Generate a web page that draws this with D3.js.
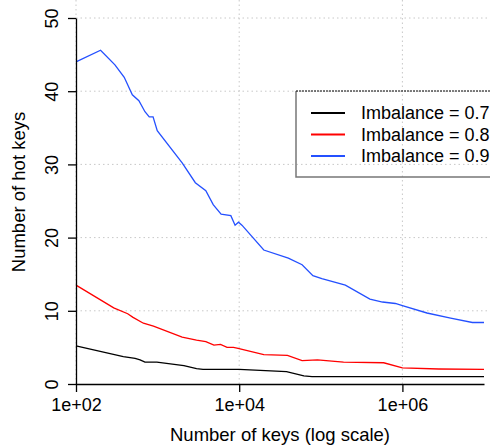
<!DOCTYPE html>
<html>
<head>
<meta charset="utf-8">
<script src="https://cdn.jsdelivr.net/npm/d3@7"></script>
<style>
  body { margin: 0; background: #fff; }
  svg { display: block; font-family: "Liberation Sans", Arial, Helvetica, sans-serif; }
</style>
</head>
<body>
<div id="chart"></div>
<script>
// values
const blueKeys = [100, 200, 300, 390, 490, 590, 700, 790, 880, 990, 2000, 2900, 3900, 4800, 6000, 7900, 8900, 9800, 10800,
  20000, 40000, 59000, 80000, 103000, 200000, 400000, 570000, 820000, 1000000, 2000000, 3900000, 7200000, 10000000];
const blueVals = [44.0, 45.6, 43.6, 41.9, 39.5, 38.7, 37.2, 36.5, 36.5, 34.6, 30.2, 27.5, 26.4, 24.5, 23.2, 23.0, 21.7, 22.1, 21.7,
  18.3, 17.2, 16.3, 14.8, 14.4, 13.5, 11.6, 11.2, 11.0, 10.7, 9.7, 9.0, 8.4, 8.4];

const redKeys = [100, 290, 430, 500, 670, 890, 2000, 3000, 3900, 4900, 5900, 7100, 8500, 9400,
  20000, 39000, 59000, 91000, 190000, 590000, 1000000, 2800000, 10000000];
const redVals = [13.5, 10.4, 9.6, 9.1, 8.3, 7.9, 6.4, 6.0, 5.8, 5.3, 5.4, 5.0, 5.0, 4.9,
  4.0, 3.9, 3.2, 3.3, 3.0, 2.9, 2.2, 2.05, 2.0];

const blackKeys = [100, 380, 530, 610, 700, 980, 2100, 3000, 3600, 10000, 38000, 62000, 78000, 10000000];
const blackVals = [5.2, 3.75, 3.5, 3.3, 3.0, 3.0, 2.5, 2.1, 2.0, 2.0, 1.7, 1.1, 1.0, 1.0];

const xTicks = [1e2, 1e4, 1e6];
const xTickLabels = ['1e+02', '1e+04', '1e+06'];
const yTicks = [0, 10, 20, 30, 40, 50];
const legendLabels = ['Imbalance = 0.7', 'Imbalance = 0.8', 'Imbalance = 0.9'];
const colors = ['#000000', '#ff0000', '#2450ff'];

const width = 490, height = 446;
const plot = { left: 76, right: 484, top: 18, bottom: 384 };

const svg = d3.select('#chart').append('svg')
  .attr('width', width)
  .attr('height', height);

const x = d3.scaleLog().domain([1e2, 1e7]).range([plot.left, plot.right]);
const y = d3.scaleLinear().domain([0, 50]).range([plot.bottom, plot.top]);

// dotted grid, runs past the axes like the original
const grid = svg.append('g').attr('class', 'grid');
grid.selectAll('line.h')
  .data(yTicks.slice(1))
  .join('line')
  .attr('class', 'h')
  .attr('x1', plot.left).attr('x2', width)
  .attr('y1', d => y(d)).attr('y2', d => y(d));
grid.selectAll('line.v')
  .data(xTicks)
  .join('line')
  .attr('class', 'v')
  .attr('x1', d => x(d)).attr('x2', d => x(d))
  .attr('y1', 0).attr('y2', plot.bottom);
grid.selectAll('line')
  .attr('stroke', '#c8c8c8')
  .attr('stroke-width', 1)
  .attr('stroke-dasharray', '1.5,3');

// series
const series = [
  { keys: blackKeys, vals: blackVals },
  { keys: redKeys, vals: redVals },
  { keys: blueKeys, vals: blueVals }
];

const line = d3.line()
  .x(d => x(d[0]))
  .y(d => y(d[1]));

svg.append('g').selectAll('path.series')
  .data(series)
  .join('path')
  .attr('class', 'series')
  .attr('d', s => line(s.keys.map((k, i) => [k, s.vals[i]])))
  .attr('fill', 'none')
  .attr('stroke', (s, i) => colors[i])
  .attr('stroke-width', 1.3);

// axes
const xAxis = d3.axisBottom(x)
  .tickValues(xTicks)
  .tickFormat((d, i) => xTickLabels[i])
  .tickSize(8)
  .tickPadding(6)
  .tickSizeOuter(0);

const gx = svg.append('g')
  .attr('transform', `translate(0,${plot.bottom})`)
  .call(xAxis);
gx.select('.domain').attr('stroke', '#000').attr('stroke-width', 1.3);
gx.selectAll('.tick line').attr('stroke', '#000').attr('stroke-width', 1.3);
gx.selectAll('.tick text')
  .attr('font-size', 18)
  .attr('fill', '#000')
  .attr('font-family', '"Liberation Sans", Arial, sans-serif');

const yAxis = d3.axisLeft(y)
  .tickValues(yTicks)
  .tickSize(8)
  .tickSizeOuter(0);

const gy = svg.append('g')
  .attr('transform', `translate(${plot.left},0)`)
  .call(yAxis);
gy.select('.domain').attr('stroke', '#000').attr('stroke-width', 1.3);
gy.selectAll('.tick line').attr('stroke', '#000').attr('stroke-width', 1.3);
// R-style labels, turned to read upward
gy.selectAll('.tick text')
  .attr('font-size', 18)
  .attr('fill', '#000')
  .attr('font-family', '"Liberation Sans", Arial, sans-serif')
  .attr('x', null).attr('dy', null)
  .attr('text-anchor', 'middle')
  .attr('transform', 'translate(-18,0) rotate(-90)');

// axis titles
svg.append('text')
  .attr('x', (plot.left + plot.right) / 2)
  .attr('y', 441)
  .attr('text-anchor', 'middle')
  .attr('font-size', 18.5)
  .text('Number of keys (log scale)');

svg.append('text')
  .attr('transform', `translate(25,${plot.bottom / 2}) rotate(-90)`)
  .attr('text-anchor', 'middle')
  .attr('font-size', 18.5)
  .text('Number of hot keys');

// legend box: left and bottom edges grey, top edge dotted
const lx = 296, ly = 91, lb = 177;
svg.append('path')
  .attr('d', `M${width + 2},${lb}H${lx}V${ly}`)
  .attr('fill', 'none')
  .attr('stroke', '#777')
  .attr('stroke-width', 1.5);
svg.append('line')
  .attr('x1', lx).attr('x2', width)
  .attr('y1', ly).attr('y2', ly)
  .attr('stroke', '#000')
  .attr('stroke-width', 1)
  .attr('stroke-dasharray', '2,1');

const legend = svg.append('g').selectAll('g')
  .data(legendLabels)
  .join('g')
  .attr('transform', (d, i) => `translate(0,${113 + i * 21.5})`);
legend.append('line')
  .attr('x1', 311).attr('x2', 345)
  .attr('stroke', (d, i) => colors[i])
  .attr('stroke-width', 2);
legend.append('text')
  .attr('x', 361)
  .attr('dy', '0.35em')
  .attr('font-size', 18)
  .text(d => d);
</script>
</body>
</html>
